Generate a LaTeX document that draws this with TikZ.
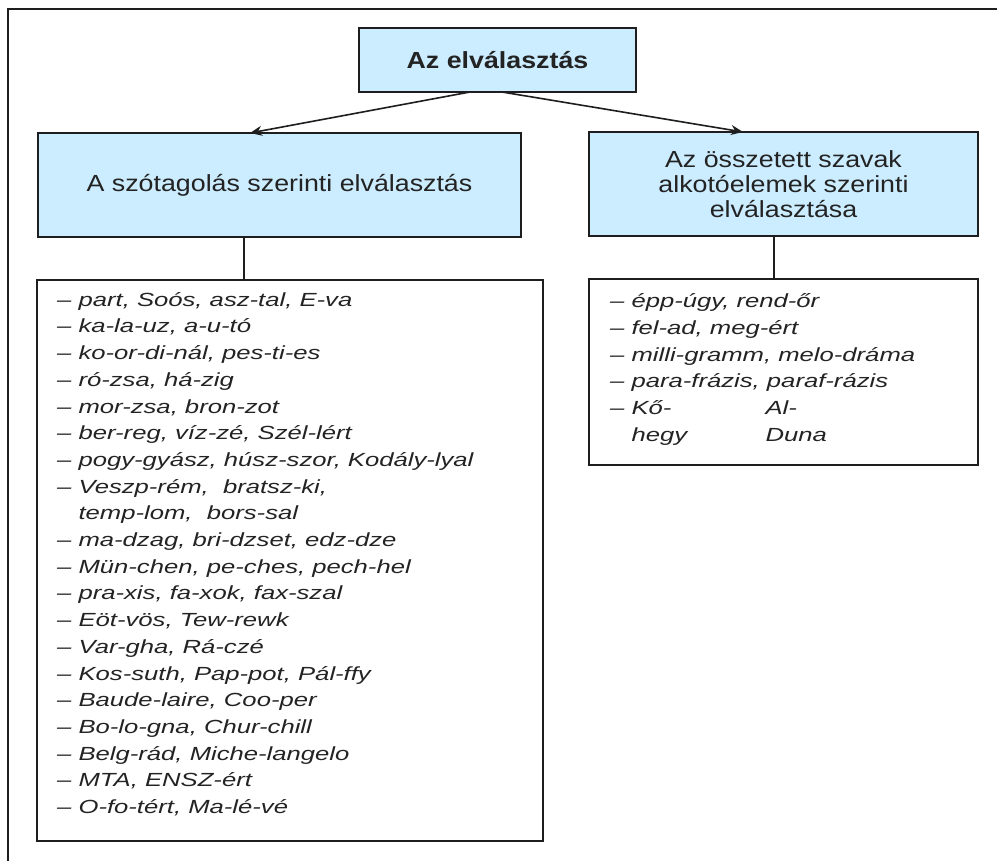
\documentclass[tikz,border=0pt]{standalone}
\usepackage{fontspec}
\setmainfont{Liberation Sans}
\newfontfamily\boxfont{Liberation Sans}[FakeStretch=1.15]
\newfontfamily\listfont{Liberation Sans}[FakeStretch=1.35]
\usetikzlibrary{arrows.meta}
\definecolor{boxblue}{RGB}{204,236,255}
\definecolor{ink}{RGB}{30,30,30}
\definecolor{txt}{RGB}{35,35,35}
\begin{document}
\begin{tikzpicture}[x=1pt,y=-1pt,
  bluebox/.style={draw=ink,line width=1.6pt,fill=boxblue,inner sep=0pt,text=txt,align=center,font=\boxfont\fontsize{23.3}{25}\selectfont},
  listbox/.style={draw=ink,line width=1.6pt,fill=white,inner sep=0pt},
  listtext/.style={anchor=north west,inner sep=0pt,align=left,text=txt,font=\listfont\itshape\fontsize{19}{26.7}\selectfont},
  conn/.style={draw=ink,line width=1.6pt},
  arr/.style={conn,-{Stealth[length=12pt,width=10pt]}}]
\useasboundingbox (0,0) rectangle (997,861);
\fill[white] (0,0) rectangle (997,861);
\draw[ink,line width=2.2pt] (8,861) -- (8,9) -- (997,9);

\node[bluebox,font=\boxfont\bfseries\fontsize{23.3}{25}\selectfont,minimum width=277,minimum height=64] (top) at (497.5,60) {Az elválasztás};
\node[bluebox,minimum width=483,minimum height=104] (sz) at (279.5,185) {A szótagolás szerinti elválasztás};
\node[bluebox,minimum width=389,minimum height=104] (os) at (783.5,184) {Az összetett szavak\\alkotóelemek szerinti\\elválasztása};
\node[listbox,minimum width=506,minimum height=561] (szl) at (290,560.5) {};
\node[listbox,minimum width=389,minimum height=186] (osl) at (783.5,372) {};

\node[listtext] (szt) at (57,286) {\rule{0pt}{20pt}– part, Soós, asz-tal, E-va\\
– ka-la-uz, a-u-tó\\
– ko-or-di-nál, pes-ti-es\\
– ró-zsa, há-zig\\
– mor-zsa, bron-zot\\
– ber-reg, víz-zé, Szél-lért\\
– pogy-gyász, húsz-szor, Kodály-lyal\\
– Veszp-rém,\ \ bratsz-ki,\\
\phantom{–\ }temp-lom,\ \ bors-sal\\
– ma-dzag, bri-dzset, edz-dze\\
– Mün-chen, pe-ches, pech-hel\\
– pra-xis, fa-xok, fax-szal\\
– Eöt-vös, Tew-rewk\\
– Var-gha, Rá-czé\\
– Kos-suth, Pap-pot, Pál-ffy\\
– Baude-laire, Coo-per\\
– Bo-lo-gna, Chur-chill\\
– Belg-rád, Miche-langelo\\
– MTA, ENSZ-ért\\
– O-fo-tért, Ma-lé-vé};

\node[listtext] (ost) at (610,287.5) {\rule{0pt}{20pt}– épp-úgy, rend-őr\\
– fel-ad, meg-ért\\
– milli-gramm, melo-dráma\\
– para-frázis, paraf-rázis\\
– \makebox[134pt][l]{Kő-}Al-\\
\phantom{–\ }\makebox[134pt][l]{hegy}Duna};

\coordinate (a1) at (470,92);
\coordinate (a2) at (502,92);
\coordinate (b1) at (250,133);
\coordinate (b2) at (743,132);
\draw[arr] (a1) -- (b1);
\draw[arr] (a2) -- (b2);
\coordinate (c1) at (244,237);
\coordinate (c2) at (774,236);
\draw[conn] (c1) -- (c1 |- szl.north);
\draw[conn] (c2) -- (c2 |- osl.north);
\end{tikzpicture}
\end{document}
